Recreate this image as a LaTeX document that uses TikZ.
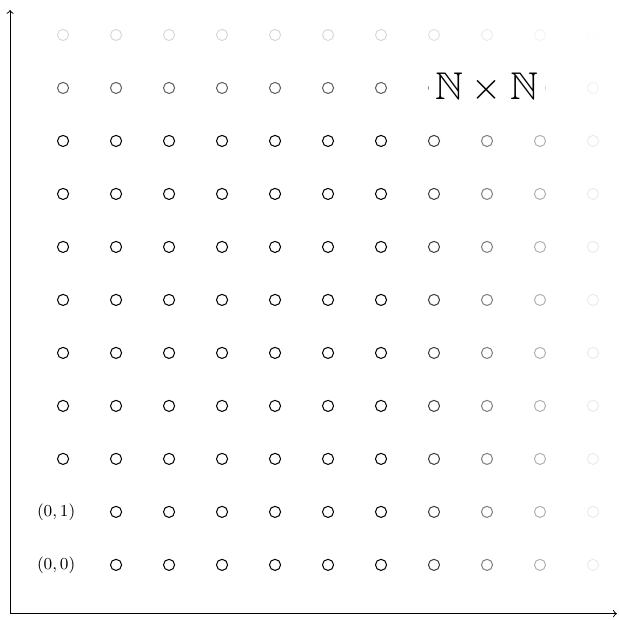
\documentclass[tikz,border=0pt]{standalone}
\usepackage{amssymb}
\begin{document}
\begin{tikzpicture}[
  dot/.style={circle, draw, line width=0.55pt, inner sep=0pt, minimum size=0.21cm},
  axis/.style={->, >=to, line width=0.5pt},
  lab/.style={font=\small, inner sep=0pt},
  big/.style={fill=white, font=\huge, inner sep=3.3pt}
]
\useasboundingbox (-1.19,-1.04) rectangle (10.49,10.66);
\coordinate (O) at (-1,-0.92);
\coordinate (X) at (10.45,-0.92);
\coordinate (Y) at (-1,10.47);
\draw[axis] (O) -- (X);
\draw[axis] (O) -- (Y);
\foreach \i/\cf in {0/1,1/1,2/1,3/1,4/1,5/1,6/1,7/0.75,8/0.5,9/0.3,10/0.08}
  \foreach \j/\rf in {0/1,1/1,2/1,3/1,4/1,5/1,6/1,7/1,8/1,9/0.62,10/0.15}
  {
    \pgfmathsetmacro\p{100*\cf*\rf}
    \pgfmathtruncatemacro\skip{(\i==0)&&(\j<2)}
    \ifnum\skip=0
      \node[dot, draw=black!\p] (c-\i-\j) at (\i,\j) {};
    \fi
  }
\node[lab] (l00) at (-0.13,0) {$(0,0)$};
\node[lab] (l01) at (-0.13,1) {$(0,1)$};
\node[big] (nn) at (8,9) {$\mathbb{N}\times\mathbb{N}$};
\end{tikzpicture}
\end{document}
